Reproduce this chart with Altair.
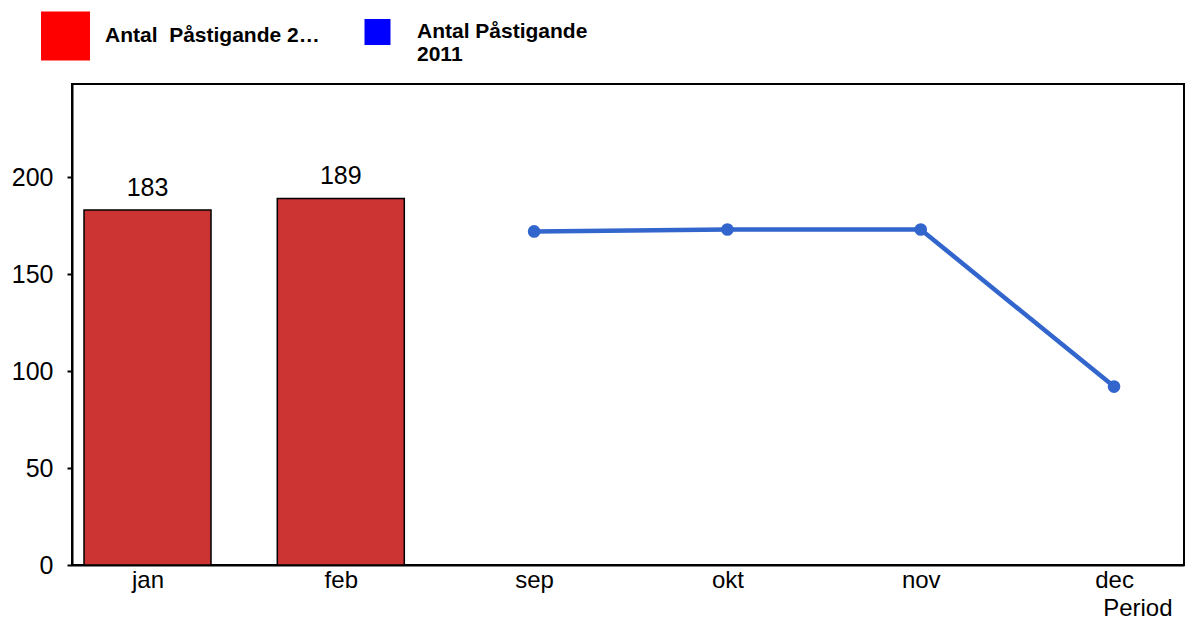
import altair as alt
import pandas as pd

# ---- data ----
months = ["jan", "feb", "sep", "okt", "nov", "dec"]
bar_months = ["jan", "feb"]
bar_values = [183, 189]
line_months = ["sep", "okt", "nov", "dec"]
line_values = [172, 173, 173, 92]
y_ticks = [0, 50, 100, 150, 200]
serie_bar = "Antal\u00a0 Påstigande 2012"
serie_line = "Antal Påstigande|2011"

FONT = "Liberation Sans"
FS = 25

bar_df = pd.DataFrame({
    "month": bar_months,
    "value": bar_values,
    "serie": serie_bar,
    "idx": [months.index(m) for m in bar_months],
})
line_df = pd.DataFrame({
    "month": line_months,
    "value": line_values,
    "serie": serie_line,
    "idx": [months.index(m) for m in line_months],
})
all_df = pd.concat([bar_df, line_df], ignore_index=True)

label_expr = "[" + ",".join("'%s'" % m for m in months) + "][datum.value]"

x_enc = alt.X(
    "idx:Q",
    scale=alt.Scale(domain=[-0.3906, 5.362], nice=False, zero=False, padding=0),
    axis=alt.Axis(
        values=list(range(len(months))),
        labelExpr=label_expr,
        ticks=False,
        grid=False,
        labelFlush=False,
        labelOverlap=False,
        labelPadding=3,
        labelFont=FONT,
        labelFontSize=24,
        labelColor="black",
        domainColor="black",
        domainWidth=2,
        title="Period",
        titleFont=FONT,
        titleFontSize=24,
        titleFontWeight="normal",
        titleColor="black",
        titleX=1100,
        titleY=50,
        titleAlign="right",
        titleBaseline="alphabetic",
    ),
)

y_enc = alt.Y(
    "value:Q",
    scale=alt.Scale(domain=[0, 248], nice=False, zero=True),
    axis=alt.Axis(
        values=y_ticks,
        title=None,
        grid=False,
        tickSize=5,
        tickWidth=2,
        tickColor="black",
        domainColor="black",
        domainWidth=2,
        labelPadding=14,
        labelFont=FONT,
        labelFontSize=FS,
        labelColor="black",
    ),
)

legend = alt.Legend(
    title=None,
    orient="none",
    legendX=-31,
    legendY=-77,
    direction="horizontal",
    columns=2,
    symbolType="square",
    symbolOpacity=1,
    symbolStrokeWidth=0,
    labelFont=FONT,
    labelFontSize=21,
    labelFontWeight="bold",
    labelColor="black",
    labelLimit=220,
    labelOffset=15,
    labelBaseline="middle",
    clipHeight=50,
    columnPadding=33,
    padding=0,
    labelExpr="split(datum.label, '|')",
)

bars = alt.Chart(bar_df).mark_bar(
    width=127, color="#CC3333", stroke="black", strokeWidth=1.5
).encode(x=x_enc, y=y_enc)

bar_text = alt.Chart(bar_df).mark_text(
    baseline="alphabetic", dy=-14, font=FONT, fontSize=FS, color="black"
).encode(x=x_enc, y=y_enc, text="value:Q")

line = alt.Chart(line_df).mark_line(
    strokeWidth=4.5,
    color="#3366CC",
    point=alt.OverlayMarkDef(filled=True, size=160, opacity=1, color="#3366CC"),
).encode(x=x_enc, y=y_enc)

# invisible marks that carry the legend (legend swatches are pure red / blue)
legend_layer = alt.Chart(all_df).mark_square(opacity=0, strokeWidth=0).encode(
    x=x_enc,
    y=y_enc,
    fill=alt.Fill(
        "serie:N",
        scale=alt.Scale(domain=[serie_bar, serie_line], range=["#FF0000", "#0000FF"]),
        legend=legend,
    ),
    size=alt.Size(
        "serie:N",
        scale=alt.Scale(type="ordinal", domain=[serie_bar, serie_line], range=[2401, 676]),
        legend=legend,
    ),
)

chart = (
    alt.layer(bars, bar_text, line, legend_layer)
    .properties(
        width=1112,
        height=481,
        autosize=alt.AutoSizeParams(type="none"),
        padding={"left": 64, "top": 76, "right": 1, "bottom": 55},
    )
    .configure_view(stroke="black", strokeWidth=2)
)

chart.save("out.html", embed_options={"renderer": "svg", "actions": False})
